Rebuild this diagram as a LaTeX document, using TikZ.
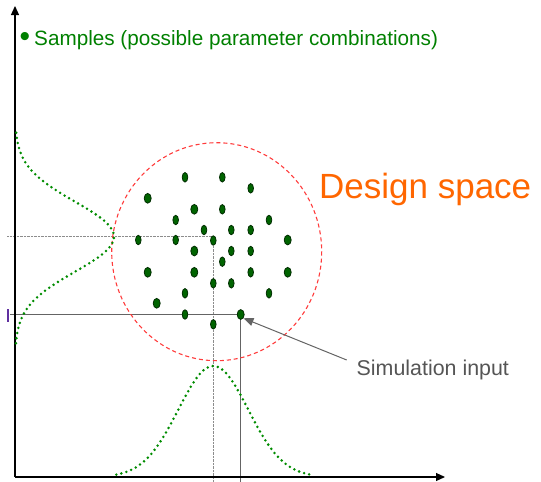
\documentclass[tikz,border=0pt]{standalone}
\usepackage{fontspec}
\setmainfont{Liberation Sans}
\usetikzlibrary{shapes.geometric,arrows.meta,backgrounds}
\definecolor{ttlgreen}{RGB}{0,128,0}
\definecolor{curvegreen}{RGB}{0,140,0}
\definecolor{dotfill}{RGB}{0,100,0}
\definecolor{dotline}{RGB}{0,45,0}
\definecolor{dsorange}{RGB}{255,102,0}
\definecolor{circred}{RGB}{255,60,60}
\definecolor{txtgray}{RGB}{85,85,85}
\definecolor{linegray}{RGB}{100,100,100}
\definecolor{dotgray}{RGB}{140,140,140}
\definecolor{tickpurple}{RGB}{96,48,160}
\begin{document}
\begin{tikzpicture}[x=1pt,y=-1pt,
  axisline/.style={draw=black,line width=1.2pt,-{Triangle[length=9pt,width=8pt]}},
  smp/.style={ellipse,draw=dotline,fill=dotfill,line width=0.8pt,inner sep=0pt,minimum width=5.6pt,minimum height=9.5pt},
  bigsmp/.style={smp,minimum width=7pt,minimum height=9.8pt},
  gcurve/.style={draw=curvegreen,line width=2.8pt,line cap=round,dash pattern=on 0pt off 5.2pt},
  guidedot/.style={draw=dotgray,line width=1pt,dash pattern=on 0.8pt off 0.6pt},
  guidesolid/.style={draw=linegray,line width=1pt},
  pointer/.style={draw=linegray,line width=1pt,-{Triangle[length=10pt,width=8pt]}}
]
\useasboundingbox (0,0) rectangle (541,482);

% axes
\coordinate (o) at (15,477);
\coordinate (ytip) at (15,6);
\coordinate (xtip) at (445,477);
\draw[axisline] (o) -- (ytip);
\draw[axisline] (o) -- (xtip);

% title
\node[anchor=base,text=ttlgreen,font=\fontsize{30}{30}\selectfont,inner sep=0pt] (bul) at (25,46) {•};
\node[anchor=base west,text=ttlgreen,font=\fontsize{20.7}{25}\selectfont,inner sep=0pt] (title) at (34,45) {Samples (possible parameter combinations)};

% design space
\draw[circred,line width=1.1pt,dash pattern=on 4pt off 3pt] (216.7,251.7) ellipse [x radius=105, y radius=109];
\node[anchor=base west,text=dsorange,font=\fontsize{35}{40}\selectfont,inner sep=0pt] (ds) at (319,198.3) {Design space};

% distributions
\draw[gcurve] plot[domain=-104:111,samples=70] ({15+99*exp(-0.5*((\x)/35)^2)},{236.7+\x});
\draw[gcurve] plot[domain=-97:97,samples=70] ({213.3+\x},{477-111*exp(-0.5*((\x)/35)^2)});

% samples
\node[smp] (s1) at (185,177.3) {};
\node[smp] (s2) at (222.3,177.3) {};
\node[smp] (s3) at (250.7,188.3) {};
\node[bigsmp] (s4) at (147.7,198.3) {};
\node[bigsmp] (s5) at (194.3,209.3) {};
\node[smp] (s6) at (222.3,209.3) {};
\node[smp] (s7) at (175.7,220) {};
\node[smp] (s8) at (269,220) {};
\node[smp] (s9) at (204,230) {};
\node[smp] (s10) at (231.3,230) {};
\node[smp] (s11) at (250.7,230) {};
\node[smp] (s12) at (138.3,240) {};
\node[smp] (s13) at (175.7,240) {};
\node[smp] (s14) at (213.3,240.5) {};
\node[bigsmp] (s15) at (287.7,240) {};
\node[bigsmp] (s16) at (194.3,251) {};
\node[smp] (s17) at (231.3,251) {};
\node[smp] (s18) at (250.7,251) {};
\node[smp] (s19) at (222.3,261.7) {};
\node[bigsmp] (s20) at (147.7,272.3) {};
\node[bigsmp] (s21) at (194.3,272.3) {};
\node[smp] (s22) at (250.7,272.3) {};
\node[bigsmp] (s23) at (287.7,272.3) {};
\node[smp] (s24) at (213.3,283.3) {};
\node[smp] (s25) at (231.3,283.3) {};
\node[smp] (s26) at (185,293.3) {};
\node[smp] (s27) at (269,293.3) {};
\node[bigsmp] (s28) at (156.7,303.3) {};
\node[smp] (s29) at (185,314.5) {};
\node[bigsmp] (sim) at (240.7,314.5) {};
\node[smp] (s31) at (213.3,324.3) {};

\begin{scope}[on background layer]
% guide lines (dotted, from sample s14)
\coordinate (c14) at (213.3,236.5);
\coordinate (y14) at (7,236.5);
\coordinate (x14) at (213.3,482);
\draw[guidedot] (y14) -- (c14) -- (x14);

% guide lines (solid, from simulation input)
\coordinate (ysim) at (10,314.5);
\coordinate (xsim) at (240.7,482);
\draw[guidesolid] (ysim) -- (sim.center) -- (xsim);
\end{scope}

\coordinate (tk1) at (8,309);
\coordinate (tk2) at (8,322);
\draw[tickpurple,line width=1.2pt] (tk1) -- (tk2);

% simulation input label
\node[anchor=base west,text=txtgray,font=\fontsize{21.4}{25}\selectfont,inner sep=0pt] (simlab) at (356.5,375) {Simulation input};
\coordinate (arrstart) at (346.7,360);
\draw[pointer] (arrstart) -- (sim.south east);
\end{tikzpicture}
\end{document}
